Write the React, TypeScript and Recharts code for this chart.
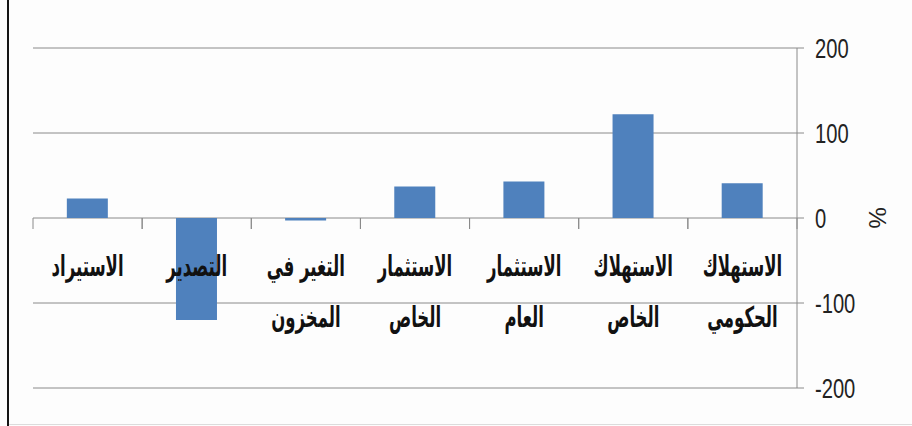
import React from 'react';
import * as R from 'recharts';
import { BarChart, Bar, XAxis, YAxis, CartesianGrid } from 'recharts';

const categories = [
  'الاستهلاك الحكومي',
  'الاستهلاك الخاص',
  'الاستثمار العام',
  'الاستثمار الخاص',
  'التغير في المخزون',
  'التصدير',
  'الاستيراد',
];
const values = [41, 122, 43, 37, -3, -120, 23];
const yTicks = [-200, -100, 0, 100, 200];
const axisTitle = '%';

const data = categories.map((name, i) => ({ name, value: values[i] }));

const GRID = '#8a8a8a';
const yMin = yTicks[0];
const yMax = yTicks[yTicks.length - 1];

function splitLabel(s: string): string[] {
  const i = s.lastIndexOf(' ');
  if (i < 0) return [s];
  return [s.slice(0, i), s.slice(i + 1)];
}

function CategoryTick(props: any) {
  const { x, y, payload, visibleTicksCount } = props;
  const usePA = (R as any).usePlotArea;
  const plot = usePA ? usePA() : null;
  let y0 = y;
  let band = 109;
  if (plot && plot.height) {
    y0 = plot.y + (plot.height * (yMax - 0)) / (yMax - yMin);
    band = plot.width / (visibleTicksCount || categories.length);
  }
  const lines = splitLabel(String(payload.value));
  return (
    <g>
      <line x1={x - band / 2} x2={x - band / 2} y1={y0} y2={y0 + 11} stroke={GRID} strokeWidth={1} />
      <line x1={x + band / 2} x2={x + band / 2} y1={y0} y2={y0 + 11} stroke={GRID} strokeWidth={1} />
      {lines.map((l, i) => (
        <text
          key={i}
          transform={`translate(${x} ${y0 + 58 + i * 51}) scale(0.75 1.3)`}
          x={0}
          y={0}
          textAnchor="middle"
          fontFamily="'DejaVu Sans', sans-serif"
          fontWeight="bold"
          fontSize={22}
          fill="#111"
          direction="rtl"
        >
          {l}
        </text>
      ))}
    </g>
  );
}

function ValueTick(props: any) {
  const { x, y, payload } = props;
  return (
    <text
      transform={`translate(${x} ${y}) scale(0.72 1)`}
      x={0}
      y={0}
      dy="0.36em"
      textAnchor="start"
      fontFamily="'Liberation Sans', sans-serif"
      fontSize={28}
      fill="#222"
    >
      {payload.value}
    </text>
  );
}

function PercentLabel(props: any) {
  const vb = props.viewBox || { x: 797, y: 48, width: 80, height: 340 };
  const cx = vb.x + vb.width;
  const cy = vb.y + vb.height / 2;
  return (
    <text
      x={cx}
      y={cy}
      transform={`rotate(90 ${cx} ${cy})`}
      textAnchor="middle"
      dominantBaseline="central"
      fontFamily="'Liberation Sans', sans-serif"
      fontSize={24}
      fill="#222"
    >
      {axisTitle}
    </text>
  );
}

export default function App() {
  return (
    <div
      style={{
        position: 'absolute',
        left: 0,
        top: 0,
        width: 912,
        height: 426,
        background: '#fdfdfd',
        overflow: 'hidden',
      }}
    >
      <div style={{ position: 'absolute', left: 7, top: 0, width: 2, height: 426, background: '#151515' }} />
      <div style={{ position: 'absolute', left: 9, top: 424, width: 903, height: 1, background: '#dcdcdc' }} />
      <BarChart
        width={912}
        height={426}
        data={data}
        margin={{ top: 48, right: 35, left: 33, bottom: 37 }}
        barCategoryGap="31%"
      >
        <CartesianGrid vertical={false} stroke={GRID} strokeWidth={1} />
        <XAxis
          dataKey="name"
          reversed
          height={1}
          axisLine={false}
          tickLine={false}
          interval={0}
          tick={<CategoryTick />}
        />
        <YAxis
          orientation="right"
          domain={[yMin, yMax]}
          ticks={yTicks}
          width={80}
          axisLine={{ stroke: GRID }}
          tickLine={{ stroke: GRID }}
          tickSize={7}
          tickMargin={11}
          tick={<ValueTick />}
          label={<PercentLabel />}
        />
        <Bar dataKey="value" fill="#4f81bd" isAnimationActive={false} />
      </BarChart>
    </div>
  );
}
